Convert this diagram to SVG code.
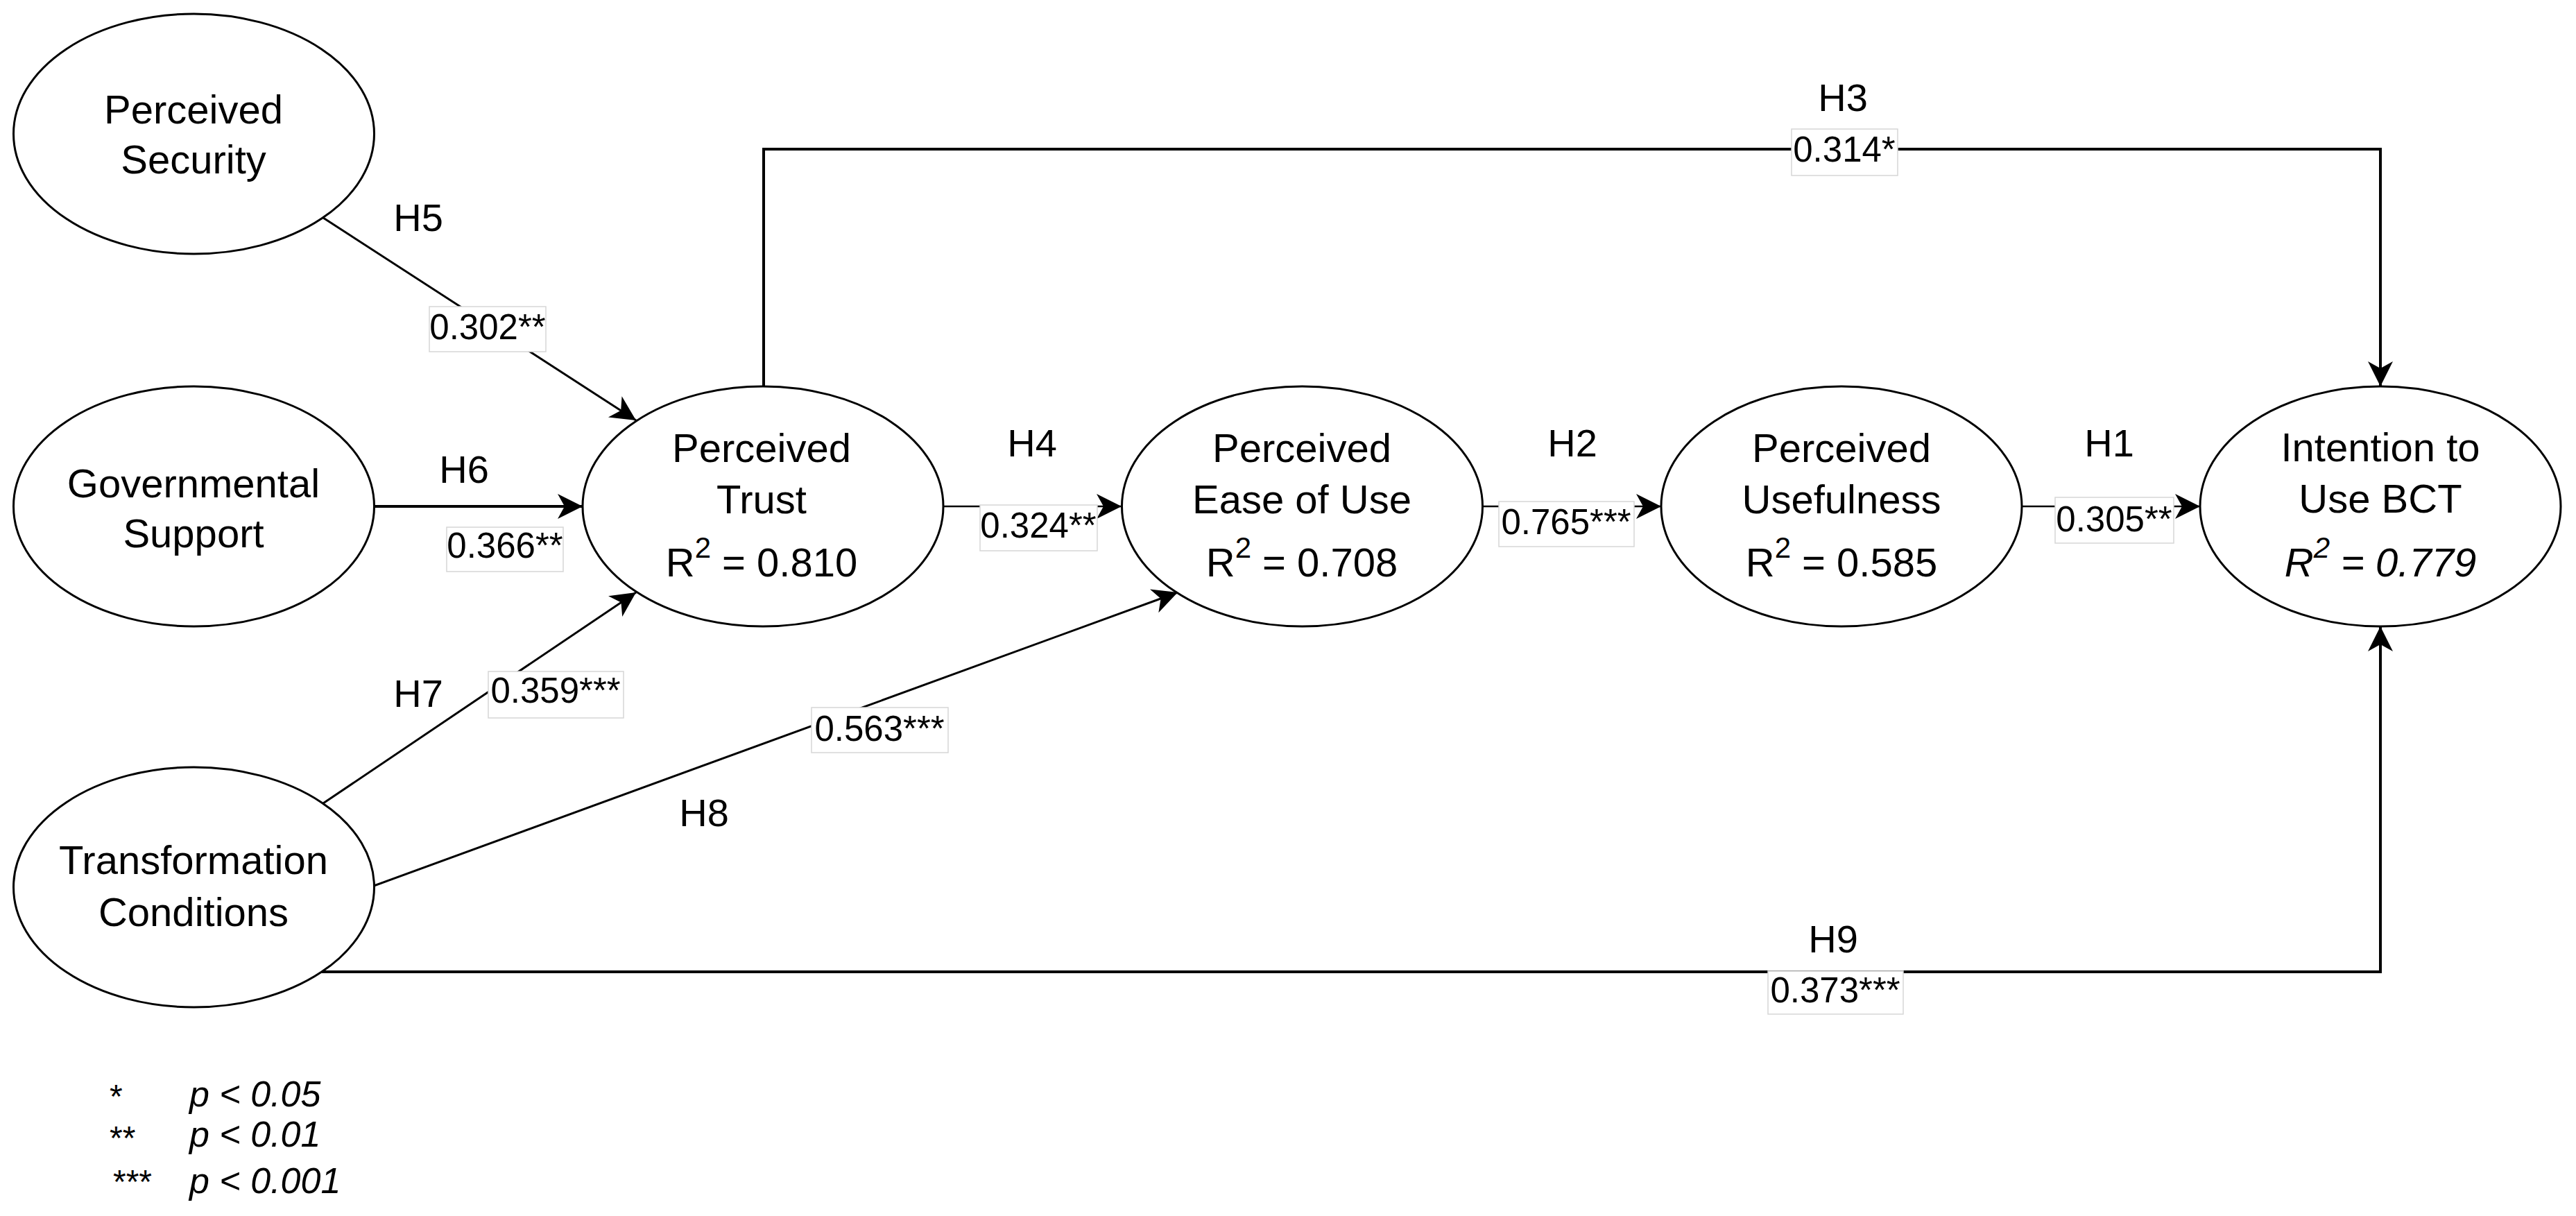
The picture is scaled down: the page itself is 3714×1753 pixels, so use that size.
<svg xmlns="http://www.w3.org/2000/svg" width="3714" height="1753" viewBox="0 0 3714 1753">
<style>
  text { font-family: "Liberation Sans", Arial, sans-serif; fill: #000; }
  .node ellipse { fill: #fff; stroke: #000; stroke-width: 3; }
  .nt { font-size: 58px; text-anchor: middle; }
  .sup { font-size: 42px; }
  .hl { font-size: 56px; text-anchor: middle; }
  .cl { font-size: 51px; text-anchor: middle; }
  .cbox { fill: #fff; stroke: #d6d6d6; stroke-width: 1.5; }
  .edge { fill: none; stroke: #000; marker-end: url(#arr); }
  .leg { font-size: 52px; font-style: italic; }
  .ast { font-size: 48px; }
</style>
<defs>
  <marker id="arr" markerUnits="userSpaceOnUse" markerWidth="40" markerHeight="40" viewBox="-38 -20 40 40" refX="0" refY="0" orient="auto">
    <path d="M0,0 L-36,-18 L-26,0 L-36,18 Z" fill="#000"/>
  </marker>
</defs>
<rect width="3714" height="1753" fill="#fff"/>

<g id="connectors">
  <line class="edge" stroke-width="3" x1="466" y1="314" x2="917" y2="606"/>
  <line class="edge" stroke-width="4" x1="539" y1="730" x2="840" y2="730"/>
  <line class="edge" stroke-width="3" x1="466" y1="1158" x2="917" y2="854"/>
  <line class="edge" stroke-width="3" x1="539" y1="1277" x2="1698" y2="854"/>
  <line class="edge" stroke-width="2.5" x1="1360" y1="730" x2="1617" y2="730"/>
  <line class="edge" stroke-width="2.5" x1="2137" y1="730" x2="2395" y2="730"/>
  <line class="edge" stroke-width="2.5" x1="2915" y1="730" x2="3172" y2="730"/>
  <polyline class="edge" stroke-width="4" points="1101,557 1101,215 3432,215 3432,557"/>
  <polyline class="edge" stroke-width="4" points="464,1401 3432,1401 3432,903"/>
</g>

<g id="edge-labels">
  <text class="hl" x="603" y="333">H5</text>
  <rect class="cbox" x="619" y="442" width="168" height="65"/>
  <text class="cl" x="703" y="489">0.302**</text>

  <text class="hl" x="669" y="696">H6</text>
  <rect class="cbox" x="644" y="760" width="168" height="64"/>
  <text class="cl" x="728" y="804">0.366**</text>

  <text class="hl" x="603" y="1019">H7</text>
  <rect class="cbox" x="704" y="968" width="195" height="67"/>
  <text class="cl" x="801" y="1013">0.359***</text>

  <text class="hl" x="1015" y="1191">H8</text>
  <rect class="cbox" x="1170" y="1020" width="197" height="65"/>
  <text class="cl" x="1268" y="1068">0.563***</text>

  <text class="hl" x="1488" y="658">H4</text>
  <rect class="cbox" x="1413" y="728" width="169" height="66"/>
  <text class="cl" x="1497" y="775">0.324**</text>

  <text class="hl" x="2267" y="658">H2</text>
  <rect class="cbox" x="2161" y="723" width="195" height="65"/>
  <text class="cl" x="2258" y="770">0.765***</text>

  <text class="hl" x="3041" y="658">H1</text>
  <rect class="cbox" x="2963" y="717" width="171" height="66"/>
  <text class="cl" x="3048" y="766">0.305**</text>

  <text class="hl" x="2657" y="160">H3</text>
  <rect class="cbox" x="2583" y="186" width="153" height="67"/>
  <text class="cl" x="2659" y="233">0.314*</text>

  <text class="hl" x="2643" y="1373">H9</text>
  <rect class="cbox" x="2549" y="1400" width="195" height="62"/>
  <text class="cl" x="2646" y="1445">0.373***</text>
</g>

<g id="node-security" class="node">
  <ellipse cx="279.5" cy="193" rx="260" ry="173"/>
  <text class="nt" x="279" y="178">Perceived</text>
  <text class="nt" x="279" y="250">Security</text>
</g>
<g id="node-governmental" class="node">
  <ellipse cx="279.5" cy="730" rx="260" ry="173"/>
  <text class="nt" x="279" y="717">Governmental</text>
  <text class="nt" x="279" y="789">Support</text>
</g>
<g id="node-transformation" class="node">
  <ellipse cx="279.5" cy="1279" rx="260" ry="173"/>
  <text class="nt" x="279" y="1260">Transformation</text>
  <text class="nt" x="279" y="1335">Conditions</text>
</g>
<g id="node-trust" class="node">
  <ellipse cx="1100" cy="730" rx="260" ry="173"/>
  <text class="nt" x="1098" y="666">Perceived</text>
  <text class="nt" x="1098" y="740">Trust</text>
  <text class="nt" x="1098" y="831">R<tspan class="sup" dy="-27">2</tspan><tspan dy="27"> = 0.810</tspan></text>
</g>
<g id="node-ease" class="node">
  <ellipse cx="1877.5" cy="730" rx="260" ry="173"/>
  <text class="nt" x="1877" y="666">Perceived</text>
  <text class="nt" x="1877" y="740">Ease of Use</text>
  <text class="nt" x="1877" y="831">R<tspan class="sup" dy="-27">2</tspan><tspan dy="27"> = 0.708</tspan></text>
</g>
<g id="node-usefulness" class="node">
  <ellipse cx="2655" cy="730" rx="260" ry="173"/>
  <text class="nt" x="2655" y="666">Perceived</text>
  <text class="nt" x="2655" y="740">Usefulness</text>
  <text class="nt" x="2655" y="831">R<tspan class="sup" dy="-27">2</tspan><tspan dy="27"> = 0.585</tspan></text>
</g>
<g id="node-intention" class="node">
  <ellipse cx="3432" cy="730" rx="260" ry="173"/>
  <text class="nt" x="3432" y="665">Intention to</text>
  <text class="nt" x="3432" y="739">Use BCT</text>
  <text class="nt" x="3432" y="831" font-style="italic">R<tspan class="sup" dy="-27">2</tspan><tspan dy="27"> = 0.779</tspan></text>
</g>

<g id="legend">
  <text class="ast" x="158" y="1597">*</text>
  <text class="leg" x="273" y="1595">p &lt; 0.05</text>
  <text class="ast" x="158" y="1657">**</text>
  <text class="leg" x="273" y="1653">p &lt; 0.01</text>
  <text class="ast" x="163" y="1720">***</text>
  <text class="leg" x="273" y="1720">p &lt; 0.001</text>
</g>
</svg>
